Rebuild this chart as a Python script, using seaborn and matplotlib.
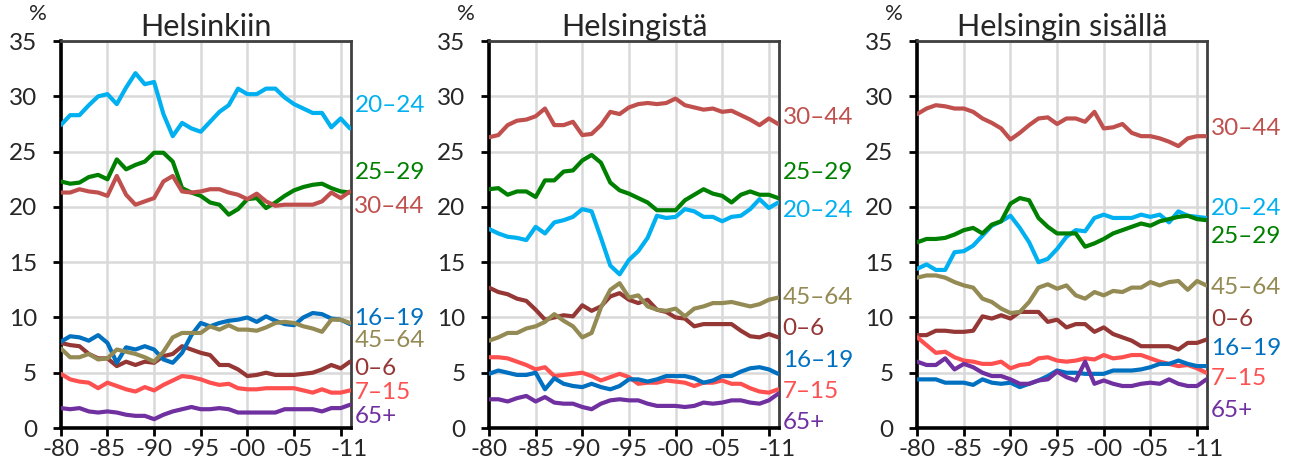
import matplotlib
matplotlib.use("Agg")
import matplotlib.pyplot as plt
import matplotlib.transforms as mtransforms
import seaborn as sns
import pandas as pd

#%% Data
years = list(range(1980, 2012))
groups = ["0–6", "7–15", "16–19", "20–24", "25–29", "30–44", "45–64", "65+"]
titles = ["Helsinkiin", "Helsingistä", "Helsingin sisällä"]
xtick_years = [1980, 1985, 1990, 1995, 2000, 2005, 2010]
xtick_labels = ["-80", "-85", "-90", "-95", "-00", "-05", "-11"]

# Helsinkiin
in_0_6 = [7.7, 7.5, 7.4, 6.7, 6.3, 6.3, 5.6, 6.0, 5.7, 6.0, 5.9, 6.5, 6.7, 7.4, 7.1, 6.8,
          6.6, 5.7, 5.7, 5.3, 4.7, 4.8, 5.0, 4.8, 4.8, 4.8, 4.9, 5.0, 5.3, 5.7, 5.4, 6.0]
in_7_15 = [4.9, 4.4, 4.2, 4.1, 3.6, 4.1, 3.8, 3.5, 3.3, 3.7, 3.4, 3.9, 4.3, 4.7, 4.6, 4.4,
           4.1, 3.9, 4.0, 3.6, 3.5, 3.5, 3.6, 3.6, 3.6, 3.6, 3.4, 3.2, 3.5, 3.2, 3.2, 3.4]
in_16_19 = [7.8, 8.3, 8.2, 7.9, 8.4, 7.7, 5.9, 7.3, 7.1, 7.4, 7.1, 6.2, 5.9, 6.8, 8.4, 9.5,
            9.2, 9.5, 9.7, 9.8, 10.0, 9.6, 10.1, 9.7, 9.4, 9.3, 10.0, 10.4, 10.3, 9.9, 9.8, 9.4]
in_20_24 = [27.4, 28.3, 28.3, 29.2, 30.0, 30.2, 29.3, 30.8, 32.1, 31.1, 31.3, 28.4, 26.4, 27.6, 27.1, 26.8,
            27.7, 28.6, 29.2, 30.7, 30.2, 30.2, 30.7, 30.7, 29.9, 29.3, 28.9, 28.5, 28.5, 27.2, 28.0, 27.1]
in_25_29 = [22.3, 22.1, 22.2, 22.7, 22.9, 22.5, 24.3, 23.4, 23.8, 24.1, 24.9, 24.9, 24.1, 21.7, 21.3, 21.0,
            20.4, 20.2, 19.3, 19.8, 20.7, 20.8, 19.9, 20.4, 21.0, 21.5, 21.8, 22.0, 22.1, 21.7, 21.4, 21.3]
in_30_44 = [21.3, 21.3, 21.6, 21.4, 21.3, 21.0, 22.8, 21.1, 20.2, 20.5, 20.8, 22.3, 22.8, 21.4, 21.3, 21.4,
            21.6, 21.6, 21.3, 21.1, 20.7, 21.2, 20.5, 20.1, 20.2, 20.2, 20.2, 20.2, 20.5, 21.3, 20.8, 21.4]
in_45_64 = [7.2, 6.4, 6.4, 6.7, 6.2, 6.3, 7.1, 6.9, 6.7, 6.4, 6.0, 6.9, 8.2, 8.6, 8.6, 8.6,
            9.2, 8.9, 9.3, 8.9, 8.9, 8.8, 9.1, 9.5, 9.6, 9.5, 9.2, 9.0, 8.7, 9.8, 9.8, 9.5]
in_65 = [1.8, 1.7, 1.8, 1.5, 1.4, 1.5, 1.4, 1.2, 1.1, 1.1, 0.8, 1.2, 1.5, 1.7, 1.9, 1.7,
         1.7, 1.8, 1.7, 1.4, 1.4, 1.4, 1.4, 1.4, 1.7, 1.7, 1.7, 1.7, 1.5, 1.8, 1.8, 2.1]

# Helsingistä
out_0_6 = [12.7, 12.3, 12.1, 11.7, 11.5, 10.7, 9.8, 10.0, 10.2, 10.1, 11.1, 10.6, 11.0, 11.9, 12.2, 11.6,
           11.3, 11.6, 10.7, 10.5, 10.0, 9.9, 9.2, 9.4, 9.4, 9.4, 9.4, 8.8, 8.3, 8.2, 8.5, 8.2]
out_7_15 = [6.4, 6.4, 6.3, 6.0, 5.7, 5.3, 5.5, 4.7, 4.8, 4.9, 5.0, 4.7, 4.3, 4.6, 4.9, 4.6,
            4.0, 4.1, 4.1, 4.3, 4.2, 4.1, 3.8, 4.1, 4.1, 4.3, 4.0, 4.0, 3.6, 3.3, 3.2, 3.5]
out_16_19 = [4.9, 5.2, 5.0, 4.8, 4.8, 5.0, 3.5, 4.5, 4.0, 3.8, 3.7, 4.0, 3.7, 3.5, 3.8, 4.4,
             4.4, 4.2, 4.4, 4.7, 4.7, 4.7, 4.5, 4.1, 4.3, 4.7, 4.7, 5.1, 5.4, 5.5, 5.3, 4.9]
out_20_24 = [18.0, 17.6, 17.3, 17.2, 17.0, 18.2, 17.6, 18.6, 18.8, 19.1, 19.8, 19.6, 17.2, 14.7, 13.9, 15.2,
             16.0, 17.2, 19.2, 19.0, 19.1, 19.8, 19.6, 19.1, 19.1, 18.7, 19.1, 19.2, 19.8, 20.7, 19.9, 20.4]
out_25_29 = [21.6, 21.7, 21.1, 21.4, 21.4, 20.9, 22.4, 22.4, 23.2, 23.3, 24.2, 24.7, 24.0, 22.2, 21.5, 21.2,
             20.8, 20.4, 19.7, 19.7, 19.7, 20.6, 21.1, 21.6, 21.2, 21.0, 20.4, 21.1, 21.4, 21.1, 21.1, 20.8]
out_30_44 = [26.3, 26.5, 27.4, 27.8, 27.9, 28.2, 28.9, 27.4, 27.4, 27.7, 26.5, 26.6, 27.4, 28.6, 28.4, 29.0,
             29.3, 29.4, 29.3, 29.4, 29.8, 29.2, 29.0, 28.8, 28.9, 28.6, 28.7, 28.3, 27.9, 27.4, 28.0, 27.5]
out_45_64 = [7.9, 8.2, 8.6, 8.6, 9.0, 9.2, 9.6, 10.3, 9.7, 9.2, 8.2, 8.6, 10.9, 12.5, 13.1, 11.8,
             12.0, 11.0, 10.7, 10.6, 10.8, 10.1, 10.8, 11.0, 11.3, 11.3, 11.4, 11.2, 11.0, 11.2, 11.6, 11.8]
out_65 = [2.6, 2.6, 2.4, 2.7, 2.9, 2.4, 2.8, 2.3, 2.2, 2.2, 1.9, 1.7, 2.2, 2.5, 2.6, 2.5,
          2.5, 2.2, 2.0, 2.0, 2.0, 1.9, 2.0, 2.3, 2.2, 2.3, 2.5, 2.5, 2.3, 2.2, 2.5, 3.1]

# Helsingin sisällä
within_0_6 = [8.4, 8.4, 8.8, 8.8, 8.7, 8.7, 8.8, 10.1, 9.9, 10.2, 9.9, 10.5, 10.5, 10.5, 9.6, 9.8,
              9.1, 9.4, 9.4, 8.7, 9.1, 8.5, 8.2, 7.9, 7.4, 7.4, 7.4, 7.4, 7.1, 7.7, 7.7, 8.0]
within_7_15 = [8.2, 7.5, 6.8, 6.9, 6.4, 6.1, 6.0, 5.8, 5.8, 6.0, 5.4, 5.7, 5.8, 6.3, 6.4, 6.1,
               6.0, 6.1, 6.3, 6.2, 6.6, 6.3, 6.4, 6.6, 6.6, 6.3, 6.0, 5.8, 5.6, 5.7, 5.4, 5.0]
within_16_19 = [4.4, 4.4, 4.4, 4.1, 4.1, 4.1, 3.9, 4.4, 4.1, 4.0, 4.1, 3.7, 4.0, 4.3, 4.7, 5.2,
                5.0, 5.0, 4.9, 4.9, 4.9, 5.2, 5.2, 5.2, 5.3, 5.5, 5.8, 5.8, 6.1, 5.8, 5.6, 5.6]
within_20_24 = [14.4, 14.8, 14.3, 14.3, 15.9, 16.0, 16.5, 17.4, 18.3, 18.7, 19.2, 18.1, 16.8, 15.0, 15.3, 16.2,
                17.3, 17.9, 17.8, 19.0, 19.3, 19.0, 19.0, 19.0, 19.3, 19.1, 19.3, 18.6, 19.6, 19.2, 19.1, 19.0]
within_25_29 = [16.8, 17.1, 17.1, 17.2, 17.5, 17.9, 18.1, 17.6, 18.4, 18.7, 20.3, 20.8, 20.6, 19.0, 18.2, 17.6,
                17.6, 17.6, 16.4, 16.7, 17.1, 17.6, 17.9, 18.2, 18.5, 18.3, 18.7, 18.9, 19.1, 19.2, 18.9, 18.8]
within_30_44 = [28.4, 28.9, 29.2, 29.1, 28.9, 28.9, 28.6, 28.0, 27.6, 27.1, 26.1, 26.7, 27.4, 28.0, 28.1, 27.5,
                28.0, 28.0, 27.7, 28.6, 27.1, 27.2, 27.5, 26.7, 26.4, 26.4, 26.2, 25.9, 25.5, 26.2, 26.4, 26.4]
within_45_64 = [13.6, 13.8, 13.8, 13.6, 13.2, 12.9, 12.7, 11.7, 11.4, 10.8, 10.4, 10.5, 11.4, 12.7, 13.0, 12.6,
                12.9, 12.0, 11.7, 12.3, 12.0, 12.4, 12.3, 12.7, 12.7, 13.2, 12.9, 13.2, 13.3, 12.5, 13.3, 12.9]
within_65 = [6.0, 5.7, 5.7, 6.3, 5.3, 5.8, 5.5, 5.0, 4.7, 4.7, 4.4, 4.0, 4.0, 4.3, 4.4, 5.1,
             4.6, 4.3, 6.0, 4.0, 4.3, 4.0, 3.8, 3.8, 4.0, 4.1, 4.0, 4.4, 4.0, 3.8, 3.8, 4.4]

panels = [
    [in_0_6, in_7_15, in_16_19, in_20_24, in_25_29, in_30_44, in_45_64, in_65],
    [out_0_6, out_7_15, out_16_19, out_20_24, out_25_29, out_30_44, out_45_64, out_65],
    [within_0_6, within_7_15, within_16_19, within_20_24, within_25_29, within_30_44, within_45_64, within_65],
]

#%% Tyylit
colors = {"0–6": "#953735", "7–15": "#FF5050", "16–19": "#0070C0", "20–24": "#00B0F0",
          "25–29": "#008000", "30–44": "#C0504D", "45–64": "#948A54", "65+": "#7030A0"}

# nimiöiden pystysijainnit (ettei teksti mene päällekkäin)
label_y = [
    {"20–24": 29.2, "25–29": 23.1, "30–44": 20.0, "16–19": 9.9, "45–64": 7.9, "0–6": 5.4, "7–15": 3.2, "65+": 1.0},
    {"30–44": 28.1, "25–29": 23.1, "20–24": 19.7, "45–64": 11.8, "0–6": 9.0, "16–19": 6.1, "7–15": 3.3, "65+": 0.5},
    {"30–44": 27.1, "20–24": 19.9, "25–29": 17.3, "45–64": 12.7, "0–6": 9.8, "16–19": 7.2, "7–15": 4.5, "65+": 1.6},
]

sns.set_style("white")
plt.rcParams['font.family'] = ['Lato', 'DejaVu Sans']

fig, axes = plt.subplots(1, 3, figsize=(12.94, 4.67), dpi=100)
fig.subplots_adjust(left=0.047, right=0.933, top=0.912, bottom=0.0835, wspace=0.476)

for ax, title, series, ly in zip(axes, titles, panels, label_y):
    rows = []
    for g, vals in zip(groups, series):
        for y, v in zip(years, vals):
            rows.append({"vuosi": y, "ryhmä": g, "osuus": v})
    df = pd.DataFrame(rows)

    sns.lineplot(data=df, x="vuosi", y="osuus", hue="ryhmä", hue_order=groups,
                 palette=colors, linewidth=3.0, legend=False, ax=ax, zorder=3)

    ax.set_xlim(1980, 2011.1)
    ax.set_ylim(0, 35)
    ax.set_yticks(range(0, 36, 5))
    ax.set_xticks(xtick_years)
    ax.set_xticklabels(xtick_labels)
    ax.grid(True, color="#D9D9D9", linewidth=1.8, zorder=0)
    ax.set_axisbelow(True)
    ax.set_xlabel("")
    ax.set_ylabel("")
    ax.tick_params(axis="both", direction="out", length=6, width=2, color="black",
                   labelsize=17.5, left=True, bottom=True)
    ax.tick_params(axis="y", pad=11)
    ax.tick_params(axis="x", pad=2)

    # viimeinen nimiö hieman oikealle
    lab = ax.get_xticklabels()[-1]
    lab.set_transform(lab.get_transform() + mtransforms.ScaledTranslation(8 / 100, 0, fig.dpi_scale_trans))

    for side in ["left", "bottom"]:
        ax.spines[side].set_color("black")
        ax.spines[side].set_linewidth(2.6)
    for side in ["top", "right"]:
        ax.spines[side].set_visible(True)
        ax.spines[side].set_color("#404040")
        ax.spines[side].set_linewidth(2.0)

    ax.set_title(title, fontsize=22, pad=4)
    ax.text(-0.08, 1.045, "%", transform=ax.transAxes, fontsize=16, ha="center", va="bottom")

    trans = mtransforms.blended_transform_factory(ax.transAxes, ax.transData)
    for g in groups:
        ax.text(1.012, ly[g], g, transform=trans, color=colors[g], fontsize=17.5,
                ha="left", va="center")

plt.savefig("out.png", dpi=100)
